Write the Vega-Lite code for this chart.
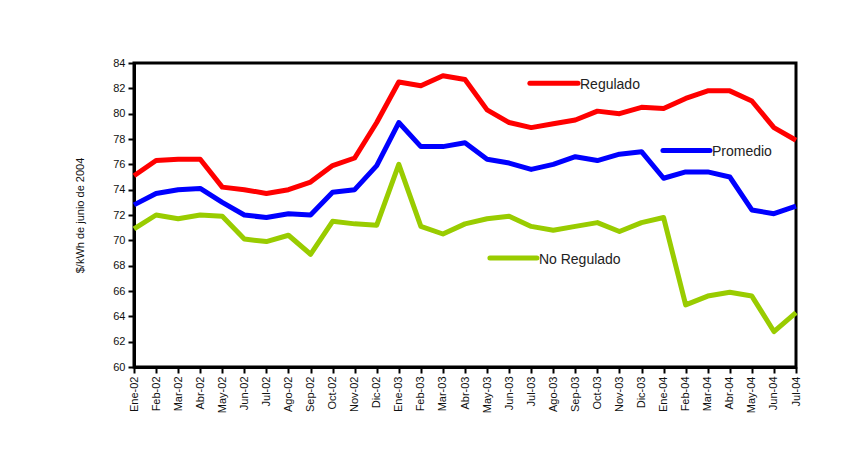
{
  "$schema": "https://vega.github.io/schema/vega-lite/v6.json",
  "width": 662,
  "height": 304,
  "autosize": {"type": "none"},
  "padding": {"left": 134, "top": 63, "right": 58, "bottom": 99},
  "background": "white",
  "config": {
    "view": {"stroke": "black", "strokeWidth": 3},
    "font": "Liberation Sans",
    "axis": {
      "grid": false,
      "domainColor": "black",
      "domainWidth": 3,
      "tickColor": "black",
      "tickWidth": 2,
      "tickSize": 6,
      "labelColor": "#111",
      "labelFont": "Liberation Sans",
      "labelFontSize": 11,
      "titleFont": "Liberation Sans",
      "titleFontSize": 11,
      "titleFontWeight": "normal",
      "titleColor": "#111",
      "labelOverlap": false,
      "labelFlush": false
    },
    "axisX": {
      "title": null,
      "labelAngle": -90,
      "labelAlign": "right",
      "labelBaseline": "middle",
      "labelPadding": 3
    },
    "axisY": {
      "labelPadding": 3,
      "titlePadding": 27
    }
  },
  "datasets": {
    "series": [
      {"t": 0, "serie": "Regulado", "valor": 75.1},
      {"t": 1, "serie": "Regulado", "valor": 76.3},
      {"t": 2, "serie": "Regulado", "valor": 76.4},
      {"t": 3, "serie": "Regulado", "valor": 76.4},
      {"t": 4, "serie": "Regulado", "valor": 74.2},
      {"t": 5, "serie": "Regulado", "valor": 74.0},
      {"t": 6, "serie": "Regulado", "valor": 73.7},
      {"t": 7, "serie": "Regulado", "valor": 74.0},
      {"t": 8, "serie": "Regulado", "valor": 74.6},
      {"t": 9, "serie": "Regulado", "valor": 75.9},
      {"t": 10, "serie": "Regulado", "valor": 76.5},
      {"t": 11, "serie": "Regulado", "valor": 79.3},
      {"t": 12, "serie": "Regulado", "valor": 82.5},
      {"t": 13, "serie": "Regulado", "valor": 82.2},
      {"t": 14, "serie": "Regulado", "valor": 83.0},
      {"t": 15, "serie": "Regulado", "valor": 82.7},
      {"t": 16, "serie": "Regulado", "valor": 80.3},
      {"t": 17, "serie": "Regulado", "valor": 79.3},
      {"t": 18, "serie": "Regulado", "valor": 78.9},
      {"t": 19, "serie": "Regulado", "valor": 79.2},
      {"t": 20, "serie": "Regulado", "valor": 79.5},
      {"t": 21, "serie": "Regulado", "valor": 80.2},
      {"t": 22, "serie": "Regulado", "valor": 80.0},
      {"t": 23, "serie": "Regulado", "valor": 80.5},
      {"t": 24, "serie": "Regulado", "valor": 80.4},
      {"t": 25, "serie": "Regulado", "valor": 81.2},
      {"t": 26, "serie": "Regulado", "valor": 81.8},
      {"t": 27, "serie": "Regulado", "valor": 81.8},
      {"t": 28, "serie": "Regulado", "valor": 81.0},
      {"t": 29, "serie": "Regulado", "valor": 78.9},
      {"t": 30, "serie": "Regulado", "valor": 77.9},
      {"t": 0, "serie": "Promedio", "valor": 72.8},
      {"t": 1, "serie": "Promedio", "valor": 73.7},
      {"t": 2, "serie": "Promedio", "valor": 74.0},
      {"t": 3, "serie": "Promedio", "valor": 74.1},
      {"t": 4, "serie": "Promedio", "valor": 73.0},
      {"t": 5, "serie": "Promedio", "valor": 72.0},
      {"t": 6, "serie": "Promedio", "valor": 71.8},
      {"t": 7, "serie": "Promedio", "valor": 72.1},
      {"t": 8, "serie": "Promedio", "valor": 72.0},
      {"t": 9, "serie": "Promedio", "valor": 73.8},
      {"t": 10, "serie": "Promedio", "valor": 74.0},
      {"t": 11, "serie": "Promedio", "valor": 75.9},
      {"t": 12, "serie": "Promedio", "valor": 79.3},
      {"t": 13, "serie": "Promedio", "valor": 77.4},
      {"t": 14, "serie": "Promedio", "valor": 77.4},
      {"t": 15, "serie": "Promedio", "valor": 77.7},
      {"t": 16, "serie": "Promedio", "valor": 76.4},
      {"t": 17, "serie": "Promedio", "valor": 76.1},
      {"t": 18, "serie": "Promedio", "valor": 75.6},
      {"t": 19, "serie": "Promedio", "valor": 76.0},
      {"t": 20, "serie": "Promedio", "valor": 76.6},
      {"t": 21, "serie": "Promedio", "valor": 76.3},
      {"t": 22, "serie": "Promedio", "valor": 76.8},
      {"t": 23, "serie": "Promedio", "valor": 77.0},
      {"t": 24, "serie": "Promedio", "valor": 74.9},
      {"t": 25, "serie": "Promedio", "valor": 75.4},
      {"t": 26, "serie": "Promedio", "valor": 75.4},
      {"t": 27, "serie": "Promedio", "valor": 75.0},
      {"t": 28, "serie": "Promedio", "valor": 72.4},
      {"t": 29, "serie": "Promedio", "valor": 72.1},
      {"t": 30, "serie": "Promedio", "valor": 72.7},
      {"t": 0, "serie": "No Regulado", "valor": 70.9},
      {"t": 1, "serie": "No Regulado", "valor": 72.0},
      {"t": 2, "serie": "No Regulado", "valor": 71.7},
      {"t": 3, "serie": "No Regulado", "valor": 72.0},
      {"t": 4, "serie": "No Regulado", "valor": 71.9},
      {"t": 5, "serie": "No Regulado", "valor": 70.1},
      {"t": 6, "serie": "No Regulado", "valor": 69.9},
      {"t": 7, "serie": "No Regulado", "valor": 70.4},
      {"t": 8, "serie": "No Regulado", "valor": 68.9},
      {"t": 9, "serie": "No Regulado", "valor": 71.5},
      {"t": 10, "serie": "No Regulado", "valor": 71.3},
      {"t": 11, "serie": "No Regulado", "valor": 71.2},
      {"t": 12, "serie": "No Regulado", "valor": 76.0},
      {"t": 13, "serie": "No Regulado", "valor": 71.1},
      {"t": 14, "serie": "No Regulado", "valor": 70.5},
      {"t": 15, "serie": "No Regulado", "valor": 71.3},
      {"t": 16, "serie": "No Regulado", "valor": 71.7},
      {"t": 17, "serie": "No Regulado", "valor": 71.9},
      {"t": 18, "serie": "No Regulado", "valor": 71.1},
      {"t": 19, "serie": "No Regulado", "valor": 70.8},
      {"t": 20, "serie": "No Regulado", "valor": 71.1},
      {"t": 21, "serie": "No Regulado", "valor": 71.4},
      {"t": 22, "serie": "No Regulado", "valor": 70.7},
      {"t": 23, "serie": "No Regulado", "valor": 71.4},
      {"t": 24, "serie": "No Regulado", "valor": 71.8},
      {"t": 25, "serie": "No Regulado", "valor": 64.9},
      {"t": 26, "serie": "No Regulado", "valor": 65.6},
      {"t": 27, "serie": "No Regulado", "valor": 65.9},
      {"t": 28, "serie": "No Regulado", "valor": 65.6},
      {"t": 29, "serie": "No Regulado", "valor": 62.8},
      {"t": 30, "serie": "No Regulado", "valor": 64.3}
    ],
    "etiquetas": [
      {"serie": "Regulado", "t0": 17.94, "t1": 20.12, "valor": 82.4, "texto": "Regulado"},
      {"serie": "Promedio", "t0": 23.97, "t1": 26.1, "valor": 77.1, "texto": "Promedio"},
      {"serie": "No Regulado", "t0": 16.13, "t1": 18.26, "valor": 68.6, "texto": "No Regulado"}
    ]
  },
  "encoding": {
    "y": {
      "field": "valor", "type": "quantitative",
      "scale": {"domain": [60, 84], "nice": false, "zero": false},
      "axis": {
        "title": "$/kWh de junio de 2004",
        "values": [60,62,64,66,68,70,72,74,76,78,80,82,84]
      }
    }
  },
  "layer": [
    {
      "data": {"name": "series"},
      "mark": {"type": "line", "strokeWidth": 5, "strokeJoin": "round", "strokeCap": "butt", "clip": false},
      "encoding": {
        "x": {
          "field": "t", "type": "quantitative",
          "scale": {"domain": [0, 30], "nice": false, "zero": false},
          "axis": {
            "values": [0,1,2,3,4,5,6,7,8,9,10,11,12,13,14,15,16,17,18,19,20,21,22,23,24,25,26,27,28,29,30],
            "labelExpr": "['Ene-02','Feb-02','Mar-02','Abr-02','May-02','Jun-02','Jul-02','Ago-02','Sep-02','Oct-02','Nov-02','Dic-02','Ene-03','Feb-03','Mar-03','Abr-03','May-03','Jun-03','Jul-03','Ago-03','Sep-03','Oct-03','Nov-03','Dic-03','Ene-04','Feb-04','Mar-04','Abr-04','May-04','Jun-04','Jul-04'][datum.value]"
          }
        },
        "color": {
          "field": "serie", "type": "nominal",
          "scale": {"domain": ["Regulado", "Promedio", "No Regulado"], "range": ["#FF0000", "#0000FF", "#99CC00"]},
          "legend": null
        },
        "detail": {"field": "serie"}
      }
    },
    {
      "data": {"name": "etiquetas"},
      "mark": {"type": "rule", "strokeWidth": 5, "strokeCap": "round"},
      "encoding": {
        "x": {
          "field": "t0", "type": "quantitative",
          "axis": {
            "values": [0,1,2,3,4,5,6,7,8,9,10,11,12,13,14,15,16,17,18,19,20,21,22,23,24,25,26,27,28,29,30],
            "labelExpr": "['Ene-02','Feb-02','Mar-02','Abr-02','May-02','Jun-02','Jul-02','Ago-02','Sep-02','Oct-02','Nov-02','Dic-02','Ene-03','Feb-03','Mar-03','Abr-03','May-03','Jun-03','Jul-03','Ago-03','Sep-03','Oct-03','Nov-03','Dic-03','Ene-04','Feb-04','Mar-04','Abr-04','May-04','Jun-04','Jul-04'][datum.value]"
          }
        },
        "x2": {"field": "t1"},
        "color": {"field": "serie", "type": "nominal", "legend": null}
      }
    },
    {
      "data": {"name": "etiquetas"},
      "mark": {"type": "text", "align": "left", "baseline": "middle", "dx": 2, "dy": 2, "fontSize": 14, "font": "Liberation Sans", "color": "#222"},
      "encoding": {
        "x": {
          "field": "t1", "type": "quantitative",
          "axis": {
            "values": [0,1,2,3,4,5,6,7,8,9,10,11,12,13,14,15,16,17,18,19,20,21,22,23,24,25,26,27,28,29,30],
            "labelExpr": "['Ene-02','Feb-02','Mar-02','Abr-02','May-02','Jun-02','Jul-02','Ago-02','Sep-02','Oct-02','Nov-02','Dic-02','Ene-03','Feb-03','Mar-03','Abr-03','May-03','Jun-03','Jul-03','Ago-03','Sep-03','Oct-03','Nov-03','Dic-03','Ene-04','Feb-04','Mar-04','Abr-04','May-04','Jun-04','Jul-04'][datum.value]"
          }
        },
        "text": {"field": "texto"}
      }
    }
  ]
}
